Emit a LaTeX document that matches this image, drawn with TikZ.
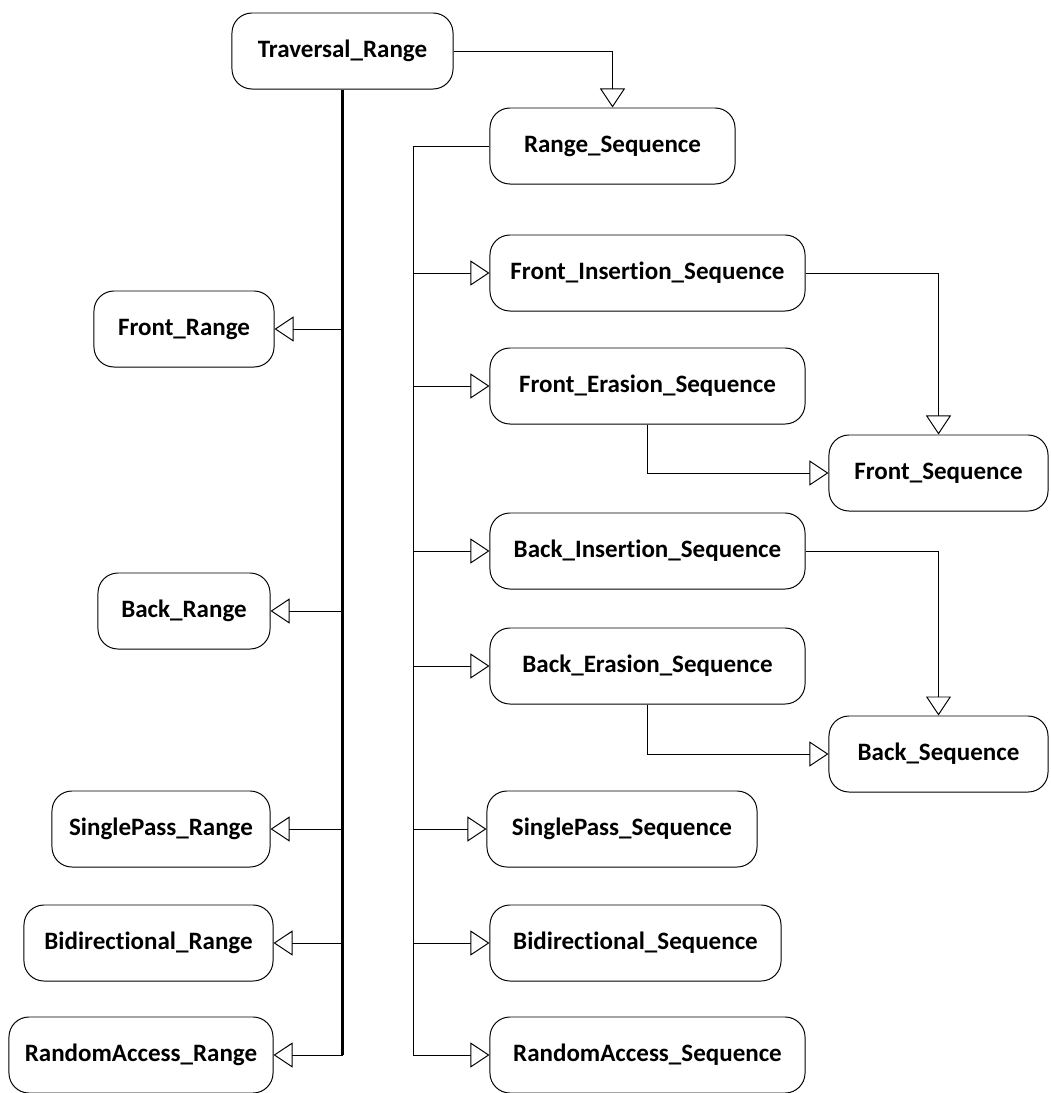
\documentclass[tikz,border=0pt]{standalone}
\usepackage{fontspec}
\setmainfont{Carlito}[Ligatures=NoCommon, Contextuals=NoAlternate, RawFeature={-liga;-clig;-calt;-dlig}]
\usetikzlibrary{arrows.meta}
\tikzset{
	concept/.style={
		rectangle,
		rounded corners=0.5cm,
		minimum height=1.9cm,
		inner sep=0pt,
		text centered,
		draw=black,
		line width=0.7pt,
		font=\fontsize{17.8}{21}\selectfont\bfseries
	},
	refines/.style={
		line width=0.7pt,
		-{Triangle[open,length=0.475cm,width=0.625cm]}
	},
	trunk/.style={line width=1.5pt}
}

\begin{document}
\begin{tikzpicture}[x=0.025cm, y=-0.025cm]
	\useasboundingbox (0,0) rectangle (1051,1093);
	% range side
	\node (tr)  [concept, minimum width=5.525cm] at (342.5,51) {Traversal\_Range};
	\node (fr)  [concept, minimum width=4.5cm]   at (184,329) {Front\_Range};
	\node (br)  [concept, minimum width=4.3cm]   at (184,611) {Back\_Range};
	\node (spr) [concept, minimum width=5.45cm]  at (161,829) {SinglePass\_Range};
	\node (bdr) [concept, minimum width=6.225cm] at (148.5,943) {Bidirectional\_Range};
	\node (rar) [concept, minimum width=6.6cm]   at (141,1055) {RandomAccess\_Range};
	% sequence side
	\node (rs)  [concept, minimum width=6.125cm] at (612.5,146) {Range\_Sequence};
	\node (fis) [concept, minimum width=7.875cm] at (647.5,273) {Front\_Insertion\_Sequence};
	\node (fes) [concept, minimum width=7.875cm] at (647.5,386) {Front\_Erasion\_Sequence};
	\node (fs)  [concept, minimum width=5.475cm] at (938.5,473) {Front\_Sequence};
	\node (bis) [concept, minimum width=7.875cm] at (647.5,551) {Back\_Insertion\_Sequence};
	\node (bes) [concept, minimum width=7.875cm] at (647.5,666) {Back\_Erasion\_Sequence};
	\node (bs)  [concept, minimum width=5.475cm] at (938.5,754) {Back\_Sequence};
	\node (sps) [concept, minimum width=6.75cm]  at (622,829) {SinglePass\_Sequence};
	\node (bds) [concept, minimum width=7.275cm] at (635.5,943) {Bidirectional\_Sequence};
	\node (ras) [concept, minimum width=7.875cm] at (647.5,1055) {RandomAccess\_Sequence};

	\coordinate (rtrunk) at (413,0);

	% trunks
	\draw [trunk] (tr.south) -- (tr.south |- rar.east);
	\draw [line width=0.7pt] (rs.west) -| (rtrunk |- ras.west);

	% refinement arrows
	\draw [refines] (tr.east) -| (rs.north);
	\foreach \n in {fr,br,spr,bdr,rar}
		\draw [refines] (\n.east -| tr.south) -- (\n.east);
	\foreach \n in {fis,fes,bis,bes,sps,bds,ras}
		\draw [refines] (\n.west -| rtrunk) -- (\n.west);
	\draw [refines] (fis.east) -| (fs.north);
	\draw [refines] (fes.south) |- (fs.west);
	\draw [refines] (bis.east) -| (bs.north);
	\draw [refines] (bes.south) |- (bs.west);
\end{tikzpicture}
\end{document}
